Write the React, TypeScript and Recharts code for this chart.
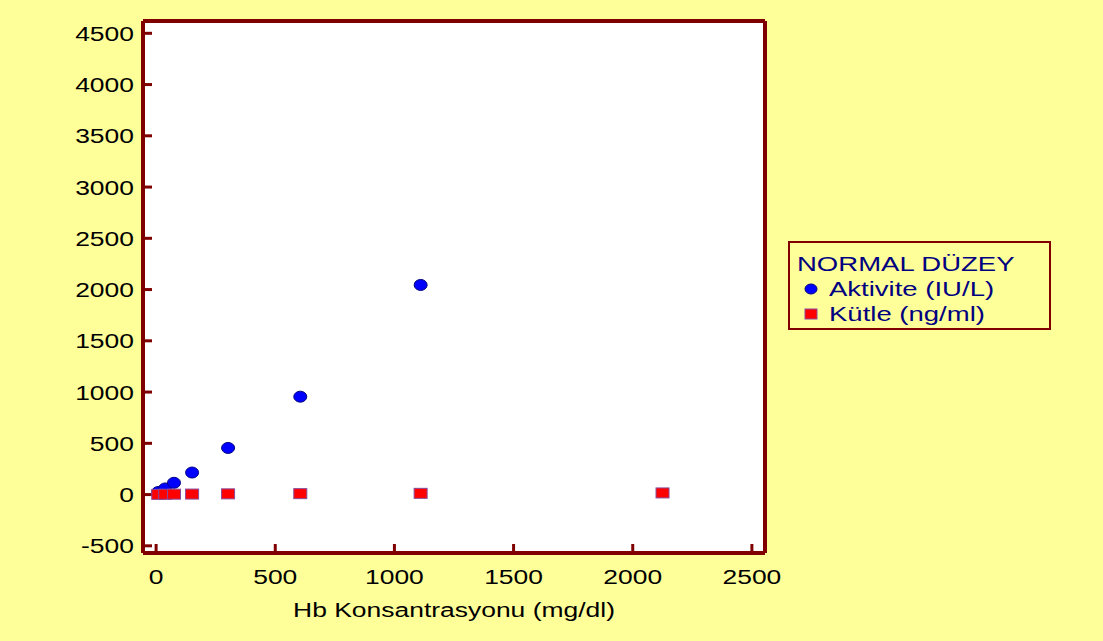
import React from 'react';
import { ScatterChart, Scatter, XAxis, YAxis, CartesianGrid, Legend } from 'recharts';

// Hb concentration levels (mg/dl) for the dilution series
const hbLevels = [9, 38, 75, 151, 302, 605, 1110, 2125];
// activity readings, last dilution has no activity point
const aktivite = [25, 60, 115, 215, 455, 955, 2045];
// mass readings stay near zero on this scale
const kutle = [2, 3, 4, 5, 7, 9, 12, 16];

const xTicks = [0, 500, 1000, 1500, 2000, 2500];
const yTicks = [-500, 0, 500, 1000, 1500, 2000, 2500, 3000, 3500, 4000, 4500];

const aktiviteData = aktivite.map((y, i) => ({ x: hbLevels[i], y }));
const kutleData = kutle.map((y, i) => ({ x: hbLevels[i], y }));

const FONT = '"Liberation Sans", Arial, sans-serif';
const FRAME = '#800000';
const LEGEND_TEXT = '#000080';
const FONT_SIZE = 21;
const STRETCH = 1.26; // wide sans lettering

const Dot = (props: any) => (
  <ellipse cx={props.cx} cy={props.cy} rx={6.5} ry={5.5} fill="#0000ff" stroke="#000080" strokeWidth={1} />
);

const Square = (props: any) => (
  <rect x={props.cx - 6.5} y={props.cy - 5} width={13} height={10} fill="#ff0000" stroke="#8a4a9a" strokeWidth={1} />
);

const WideText = ({ x, y, anchor, dy, children }: any) => (
  <g transform={`translate(${x},${y}) scale(${STRETCH},1)`}>
    <text x={0} y={0} dy={dy} textAnchor={anchor} fill="#000" fontSize={FONT_SIZE} fontFamily={FONT}>
      {children}
    </text>
  </g>
);

const XTick = (props: any) => (
  <WideText x={props.x} y={props.y} anchor="middle" dy="0.71em">
    {props.payload.value}
  </WideText>
);

const YTick = (props: any) => (
  <WideText x={props.x} y={props.y} anchor="end" dy="0.36em">
    {props.payload.value}
  </WideText>
);

const XTitle = (props: any) => {
  const vb = props.viewBox;
  return (
    <WideText x={vb.x + vb.width / 2} y={vb.y + vb.height - 24} anchor="middle" dy={0}>
      Hb Konsantrasyonu (mg/dl)
    </WideText>
  );
};

const wide: React.CSSProperties = {
  display: 'inline-block',
  whiteSpace: 'nowrap',
  transform: `scaleX(${STRETCH + 0.05})`,
  transformOrigin: 'left center',
};

const LegendBox = () => (
  <div
    style={{
      width: 263,
      height: 89,
      boxSizing: 'border-box',
      border: `2px solid ${FRAME}`,
      padding: '8px 0 0 7px',
      fontFamily: FONT,
      fontSize: FONT_SIZE,
      lineHeight: '25px',
      color: LEGEND_TEXT,
      textAlign: 'left',
    }}
  >
    <div style={{ height: 25 }}>
      <span style={wide}>NORMAL DÜZEY</span>
    </div>
    <div style={{ position: 'relative', height: 25 }}>
      <svg width={14} height={12} style={{ position: 'absolute', left: 7, top: 7 }}>
        <ellipse cx={7} cy={6} rx={6} ry={5} fill="#0000ff" stroke="#000080" />
      </svg>
      <span style={{ ...wide, position: 'absolute', left: 32 }}>Aktivite (IU/L)</span>
    </div>
    <div style={{ position: 'relative', height: 25 }}>
      <svg width={14} height={12} style={{ position: 'absolute', left: 7, top: 7 }}>
        <rect x={1} y={1} width={12} height={10} fill="#ff0000" stroke="#8a4a9a" />
      </svg>
      <span style={{ ...wide, position: 'absolute', left: 32 }}>Kütle (ng/ml)</span>
    </div>
  </div>
);

// grid lines only at the plot edges, giving the closed frame
const frameRows = ({ offset }: any) => [offset.top, offset.top + offset.height];
const frameCols = ({ offset }: any) => [offset.left, offset.left + offset.width];

export default function App() {
  return (
    <div style={{ position: 'absolute', left: 0, top: 0, width: 1103, height: 641, background: '#ffff99' }}>
      <ScatterChart width={1103} height={641} margin={{ top: 21, right: 338, bottom: 0, left: 0 }}>
        <CartesianGrid
          fill="#ffffff"
          stroke={FRAME}
          strokeWidth={4}
          horizontalCoordinatesGenerator={frameRows}
          verticalCoordinatesGenerator={frameCols}
        />
        <XAxis
          type="number"
          dataKey="x"
          domain={[-55, 2555]}
          ticks={xTicks}
          allowDataOverflow
          height={88}
          tick={<XTick />}
          tickSize={-9}
          tickMargin={25}
          axisLine={{ stroke: FRAME, strokeWidth: 4 }}
          tickLine={{ stroke: FRAME, strokeWidth: 3 }}
          label={<XTitle />}
        />
        <YAxis
          type="number"
          dataKey="y"
          domain={[-570, 4620]}
          ticks={yTicks}
          allowDataOverflow
          width={143}
          tick={<YTick />}
          tickSize={-9}
          tickMargin={18}
          axisLine={{ stroke: FRAME, strokeWidth: 4 }}
          tickLine={{ stroke: FRAME, strokeWidth: 3 }}
        />
        <Legend
          content={<LegendBox />}
          layout="horizontal"
          verticalAlign="middle"
          align="center"
          wrapperStyle={{ left: 788, top: 241, width: 263 }}
        />
        <Scatter name="Aktivite (IU/L)" data={aktiviteData} shape={Dot} isAnimationActive={false} />
        <Scatter name="Kütle (ng/ml)" data={kutleData} shape={Square} isAnimationActive={false} />
      </ScatterChart>
    </div>
  );
}
